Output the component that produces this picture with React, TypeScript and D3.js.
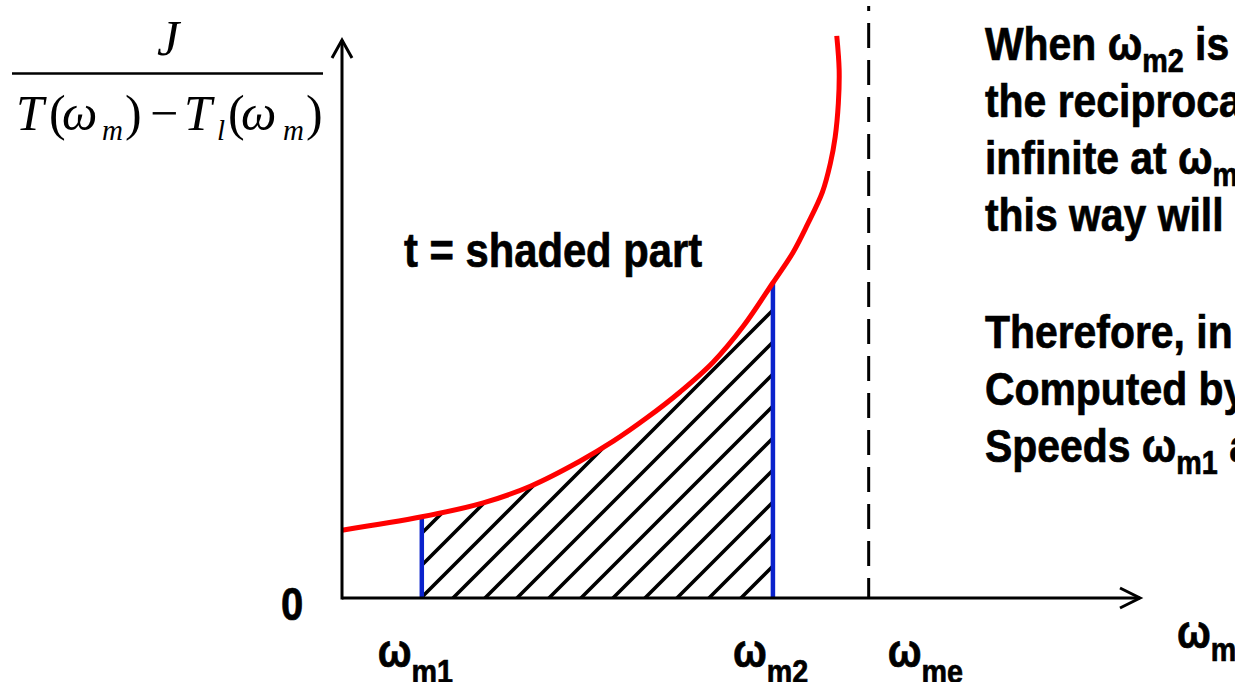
import React from 'react';
import * as d3 from 'd3';

// curve of J / (T - Tl) against speed
const curveOmega = [0, 1.0, 1.77, 2.36, 2.98, 3.4, 3.82, 4.24, 4.65, 5.03, 5.4, 5.65, 5.83, 6.02, 6.12, 6.18, 6.22, 6.23, 6.2];
const curveValue = [1.22, 1.46, 1.71, 2.01, 2.46, 2.82, 3.24, 3.71, 4.24, 4.89, 5.67, 6.21, 6.71, 7.3, 7.82, 8.29, 8.9, 9.5, 10.11];

// speeds marked on the x axis
const markerSubs = ['m1', 'm2', 'me'];
const markerOmega = [1.0, 5.4, 6.6];

const noteLines = [
  ['When ', 'm2', ' is'],
  ['the reciprocal', '', ''],
  ['infinite at ', 'me', ''],
  ['this way will', '', ''],
  ['Therefore, in', '', ''],
  ['Computed by', '', ''],
  ['Speeds ', 'm1', ' and'],
];

const W = 1235;
const H = 682;
const SANS = "'Liberation Sans', Arial, sans-serif";
const SERIF = "'Liberation Serif', 'Times New Roman', serif";
const NARROW = 0.87; // Arial Narrow look

// bold condensed text: Liberation Sans squeezed sideways
const Narrow = ({ x, y, size, anchor = 'start', children }: any) => (
  <text transform={`translate(${x},${y}) scale(${NARROW},1)`} fontSize={size}
    fontFamily={SANS} fontWeight="bold" fill="#000" stroke="#000" strokeWidth={0.7}
    textAnchor={anchor}>
    {children}
  </text>
);

const App = () => {
  const x = d3.scaleLinear().domain([0, 10]).range([342, 1140]);
  const y = d3.scaleLinear().domain([0, 10]).range([598, 42]);

  const pts: [number, number][] = curveOmega.map((w, i) => [w, curveValue[i]]);
  const line = d3.line<[number, number]>()
    .x(d => x(d[0]))
    .y(d => y(d[1]))
    .curve(d3.curveCatmullRom.alpha(0.5));
  const curvePath = line(pts) || '';
  const last = pts[pts.length - 1];
  const areaPath = `${curvePath}L${x(last[0])},${y(0)}L${x(0)},${y(0)}Z`;

  const w1 = markerOmega[0];
  const w2 = markerOmega[1];
  const we = markerOmega[2];
  const valAt = (w: number) => curveValue[curveOmega.indexOf(w)];

  const labelDx = [-44, -40, 19];

  const noteTop = 60;
  const noteGap = 57;
  const noteBreak = 60;

  return (
    <svg width={W} height={H} style={{ position: 'absolute', left: 0, top: 0, background: '#fff' }}>
      <defs>
        <pattern id="hatch" patternUnits="userSpaceOnUse" width={32} height={32}
          patternTransform="translate(27,0)">
          <path d="M-8,8L8,-8M0,32L32,0M24,40L40,24" stroke="#000" strokeWidth={3.6} />
        </pattern>
        <clipPath id="band">
          <rect x={x(w1)} y={0} width={x(w2) - x(w1)} height={y(0)} />
        </clipPath>
      </defs>
      <rect width={W} height={H} fill="#fff" />

      {/* formula on the y axis */}
      <g fontFamily={SERIF} fill="#000">
        <text x={168} y={55} fontSize={50} fontStyle="italic" textAnchor="middle">J</text>
        <line x1={12} x2={323} y1={73.5} y2={73.5} stroke="#000" strokeWidth={2.5} />
        <text y={130} fontSize={50}>
          <tspan x={16} fontStyle="italic">T</tspan>
          <tspan x={49}>(</tspan>
          <tspan x={62} fontStyle="italic">ω</tspan>
        </text>
        <text x={102} y={140} fontSize={29} fontStyle="italic">m</text>
        <text y={130} fontSize={50}>
          <tspan x={125}>)</tspan>
          <tspan x={150}>−</tspan>
          <tspan x={184} fontStyle="italic">T</tspan>
        </text>
        <text x={217} y={140} fontSize={29} fontStyle="italic">l</text>
        <text y={130} fontSize={50}>
          <tspan x={228}>(</tspan>
          <tspan x={241} fontStyle="italic">ω</tspan>
        </text>
        <text x={283} y={140} fontSize={29} fontStyle="italic">m</text>
        <text x={306} y={130} fontSize={50}>)</text>
      </g>

      {/* shaded part */}
      <path d={areaPath} fill="url(#hatch)" clipPath="url(#band)" />

      {/* omega_me asymptote */}
      <line x1={x(we)} x2={x(we)} y1={6} y2={y(0)} stroke="#000" strokeWidth={3}
        strokeDasharray="25 12" strokeDashoffset={20} />

      {/* speed limits */}
      {[w1, w2].map((w, i) => (
        <line key={i} x1={x(w)} x2={x(w)} y1={y(0)} y2={y(valAt(w))} stroke="#0a22cc" strokeWidth={4.5} />
      ))}

      <path d={curvePath} fill="none" stroke="#ff0000" strokeWidth={5} />

      {/* axes */}
      <g stroke="#000" strokeWidth={3} fill="none">
        <line x1={x(0)} x2={x(0)} y1={y(0) + 1.5} y2={40} />
        <path d={`M${x(0) - 10},58L${x(0)},40L${x(0) + 10},58`} />
        <line x1={x(0)} x2={x(10)} y1={y(0)} y2={y(0)} />
        <path d={`M${x(10) - 20},${y(0) - 10}L${x(10)},${y(0)}L${x(10) - 20},${y(0) + 10}`} />
      </g>

      <Narrow x={292} y={620} size={46} anchor="middle">0</Narrow>
      {markerOmega.map((w, i) => (
        <Narrow key={i} x={x(w) + labelDx[i]} y={667} size={46}>
          ω<tspan fontSize={33} dy={16}>{markerSubs[i]}</tspan>
        </Narrow>
      ))}
      <Narrow x={1177} y={648} size={46}>
        ω<tspan fontSize={33} dy={13}>m</tspan>
      </Narrow>

      <Narrow x={404} y={267} size={48}>t = shaded part</Narrow>

      {noteLines.map((l, i) => {
        const yy = noteTop + i * noteGap + (i >= 4 ? noteBreak : 0);
        return (
          <Narrow key={i} x={985} y={yy} size={47}>
            {l[0]}
            {l[1] ? (
              <>
                <tspan>ω</tspan>
                <tspan fontSize={33} dy={12}>{l[1]}</tspan>
                <tspan dy={-12}>{l[2]}</tspan>
              </>
            ) : null}
          </Narrow>
        );
      })}
    </svg>
  );
};

export default App;
